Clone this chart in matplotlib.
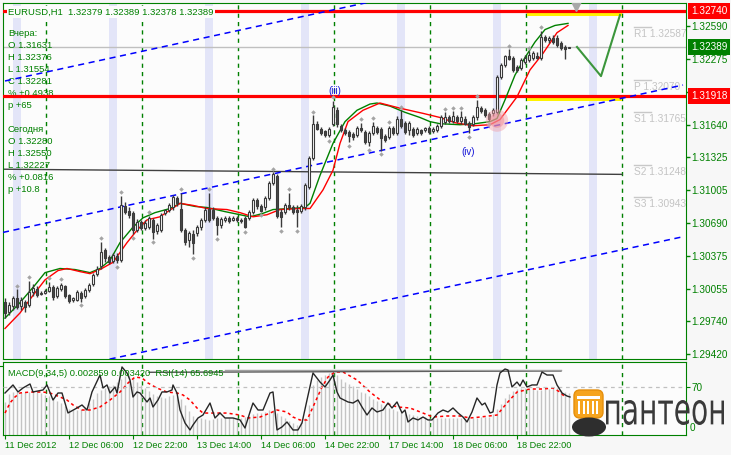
import numpy as np
import matplotlib
matplotlib.use('Agg')
import matplotlib.pyplot as plt
from matplotlib.patches import FancyBboxPatch, Ellipse, Rectangle, PathPatch
from matplotlib.textpath import TextPath
from matplotlib.font_manager import FontProperties
from matplotlib.transforms import Affine2D

plt.rcParams['font.family'] = ['Liberation Sans', 'DejaVu Sans']

# EURUSD H1 candles, bar 0 = 11 Dec 2012 14:00
opens = [1.2993, 1.2983, 1.2989, 1.2996, 1.2989, 1.2993, 1.2990, 1.3002, 1.3005, 1.3000,
         1.3001, 1.3003, 1.3007, 1.2998, 1.3005, 1.3008, 1.2999, 1.2995, 1.2995, 1.3001,
         1.2998, 1.3004, 1.3010, 1.3020, 1.3027, 1.3043, 1.3036, 1.3032, 1.3037, 1.3033,
         1.3085, 1.3081, 1.3079, 1.3062, 1.3070, 1.3064, 1.3065, 1.3072, 1.3061, 1.3062,
         1.3079, 1.3082, 1.3084, 1.3093, 1.3083, 1.3062, 1.3053, 1.3058, 1.3059, 1.3065,
         1.3072, 1.3083, 1.3082, 1.3074, 1.3067, 1.3072, 1.3074, 1.3072, 1.3074, 1.3072,
         1.3074, 1.3074, 1.3080, 1.3091, 1.3085, 1.3084, 1.3093, 1.3108, 1.3114, 1.3080,
         1.3080, 1.3086, 1.3084, 1.3082, 1.3081, 1.3084, 1.3104, 1.3132, 1.3165, 1.3160,
         1.3158, 1.3154, 1.3165, 1.3178, 1.3163, 1.3159, 1.3157, 1.3155, 1.3154, 1.3161,
         1.3157, 1.3147, 1.3156, 1.3161, 1.3160, 1.3153, 1.3152, 1.3161, 1.3156, 1.3170,
         1.3166, 1.3159, 1.3160, 1.3156, 1.3159, 1.3159, 1.3161, 1.3158, 1.3159, 1.3163,
         1.3167, 1.3171, 1.3168, 1.3171, 1.3168, 1.3170, 1.3166, 1.3165, 1.3171, 1.3180,
         1.3178, 1.3174, 1.3175, 1.3176, 1.3210, 1.3222, 1.3230, 1.3229, 1.3220, 1.3219,
         1.3225, 1.3227, 1.3229, 1.3230, 1.3229, 1.3249, 1.3246, 1.3248, 1.3248, 1.3243,
         1.3239, 1.32379]
closes = [1.2982, 1.2990, 1.2996, 1.2988, 1.2995, 1.2988, 1.3002, 1.3006, 1.2999, 1.3001,
          1.3003, 1.3007, 1.2997, 1.3006, 1.3009, 1.2998, 1.2994, 1.2996, 1.3002, 1.2996,
          1.3004, 1.3009, 1.3019, 1.3025, 1.3041, 1.3035, 1.3031, 1.3038, 1.3033, 1.3086,
          1.3080, 1.3077, 1.3062, 1.3070, 1.3064, 1.3069, 1.3074, 1.3060, 1.3067, 1.3077,
          1.3082, 1.3086, 1.3094, 1.3088, 1.3062, 1.3051, 1.3059, 1.3050, 1.3065, 1.3072,
          1.3082, 1.3072, 1.3074, 1.3067, 1.3073, 1.3074, 1.3071, 1.3074, 1.3072, 1.3071,
          1.3065, 1.3080, 1.3091, 1.3085, 1.3081, 1.3093, 1.3108, 1.3116, 1.3076, 1.3075,
          1.3086, 1.3084, 1.3080, 1.3080, 1.3085, 1.3106, 1.3132, 1.3165, 1.3160, 1.3156,
          1.3154, 1.3160, 1.3181, 1.3165, 1.3159, 1.3156, 1.3153, 1.3152, 1.3161, 1.3159,
          1.3147, 1.3156, 1.3163, 1.3157, 1.3151, 1.3149, 1.3161, 1.3156, 1.3170, 1.3163,
          1.3157, 1.3166, 1.3154, 1.3160, 1.3156, 1.3161, 1.3157, 1.3160, 1.3163, 1.3171,
          1.3171, 1.3168, 1.3172, 1.3168, 1.3171, 1.3165, 1.3162, 1.3171, 1.3181, 1.3177,
          1.3173, 1.3170, 1.3178, 1.3210, 1.3222, 1.3230, 1.3228, 1.3217, 1.3217, 1.3227,
          1.3229, 1.3231, 1.3233, 1.3229, 1.3249, 1.3246, 1.3248, 1.3244, 1.3241, 1.3238,
          1.3237, 1.32389]
highs = [1.2996, 1.2993, 1.2998, 1.3005, 1.2997, 1.2995, 1.3013, 1.3010, 1.3008, 1.3003,
         1.3005, 1.3012, 1.3009, 1.3008, 1.3011, 1.3009, 1.3000, 1.2997, 1.3004, 1.3003,
         1.3006, 1.3011, 1.3021, 1.3027, 1.3051, 1.3045, 1.3038, 1.3040, 1.3040, 1.3095,
         1.3089, 1.3084, 1.3081, 1.3073, 1.3072, 1.3072, 1.3076, 1.3074, 1.3069, 1.3079,
         1.3083, 1.3088, 1.3096, 1.3095, 1.3098, 1.3064, 1.3061, 1.3062, 1.3067, 1.3074,
         1.3084, 1.3098, 1.3084, 1.3076, 1.3075, 1.3076, 1.3076, 1.3076, 1.3076, 1.3074,
         1.3076, 1.3082, 1.3093, 1.3093, 1.3087, 1.3095, 1.3110, 1.3118, 1.3116, 1.3083,
         1.3088, 1.3098, 1.3086, 1.3086, 1.3087, 1.3108, 1.3134, 1.3173, 1.3168, 1.3162,
         1.3159, 1.3162, 1.3187, 1.3181, 1.3165, 1.3161, 1.3159, 1.3157, 1.3163, 1.3166,
         1.3159, 1.3158, 1.3167, 1.3163, 1.3162, 1.3155, 1.3163, 1.3163, 1.3172, 1.3178,
         1.3168, 1.3168, 1.3162, 1.3162, 1.3160, 1.3162, 1.3163, 1.3162, 1.3165, 1.3173,
         1.3176, 1.3173, 1.3177, 1.3173, 1.3177, 1.3172, 1.3168, 1.3173, 1.3188, 1.3182,
         1.3180, 1.3176, 1.3180, 1.3212, 1.3224, 1.3231, 1.3237, 1.3230, 1.3222, 1.3229,
         1.3231, 1.3235, 1.3235, 1.3234, 1.3255, 1.3251, 1.3250, 1.3251, 1.3251, 1.3245,
         1.3241, 1.32389]
lows = [1.2977, 1.2980, 1.2985, 1.2986, 1.2985, 1.2983, 1.2988, 1.2998, 1.2997, 1.2999,
        1.3000, 1.3002, 1.2995, 1.2996, 1.3003, 1.2996, 1.2992, 1.2993, 1.2994, 1.2993,
        1.2996, 1.3002, 1.3008, 1.3018, 1.3025, 1.3031, 1.3029, 1.3030, 1.3030, 1.3031,
        1.3078, 1.3074, 1.3058, 1.3060, 1.3062, 1.3062, 1.3063, 1.3054, 1.3058, 1.3060,
        1.3077, 1.3080, 1.3082, 1.3085, 1.3060, 1.3048, 1.3046, 1.3039, 1.3056, 1.3062,
        1.3070, 1.3070, 1.3072, 1.3057, 1.3064, 1.3070, 1.3069, 1.3071, 1.3070, 1.3069,
        1.3064, 1.3072, 1.3078, 1.3083, 1.3080, 1.3082, 1.3091, 1.3106, 1.3074, 1.3065,
        1.3078, 1.3082, 1.3078, 1.3065, 1.3079, 1.3082, 1.3102, 1.3130, 1.3159, 1.3154,
        1.3152, 1.3152, 1.3163, 1.3162, 1.3157, 1.3154, 1.3147, 1.3149, 1.3152, 1.3157,
        1.3145, 1.3143, 1.3154, 1.3155, 1.3139, 1.3147, 1.3150, 1.3154, 1.3154, 1.3161,
        1.3155, 1.3154, 1.3152, 1.3154, 1.3154, 1.3157, 1.3155, 1.3156, 1.3157, 1.3161,
        1.3165, 1.3166, 1.3166, 1.3166, 1.3165, 1.3164, 1.3156, 1.3163, 1.3169, 1.3175,
        1.3171, 1.3168, 1.3172, 1.3174, 1.3208, 1.3220, 1.3227, 1.3215, 1.3215, 1.3217,
        1.3223, 1.3225, 1.3227, 1.3228, 1.3227, 1.3244, 1.3243, 1.3242, 1.3239, 1.3236,
        1.3228, 1.32378]

up_fractals = [3, 6, 11, 14, 24, 29, 36, 44, 51, 67, 71, 77, 82, 89, 92, 96, 99,
               110, 112, 114, 118, 126, 131, 134]
down_fractals = [19, 28, 32, 37, 47, 53, 60, 64, 69, 73, 81, 86, 91, 94, 116, 121]

# moving averages
green_ma_bars = [0, 3.75, 7.5, 10, 13.75, 17.5, 21.25, 23.75, 26.25, 28.75, 32, 34.5, 37.5,
                 41.25, 43.75, 47.5, 50.5, 55, 58.75, 61.25, 64.25, 67, 71.25, 75, 76.25,
                 78.75, 82, 85, 88, 91.25, 93, 96.25, 100, 103.75, 106.25, 108.75, 113.75,
                 117.5, 121.25, 123, 125, 127.5, 130, 132.5, 135, 137.5, 140.75]
green_ma = [1.2977, 1.2992, 1.3009, 1.3021, 1.3025, 1.3024, 1.3021, 1.3025, 1.3033, 1.3050,
            1.3065, 1.3074, 1.3079, 1.3083, 1.3088, 1.3085, 1.3084, 1.3080, 1.3077, 1.3075,
            1.3078, 1.3082, 1.3083, 1.3084, 1.3088, 1.3115, 1.3146, 1.3167, 1.3178, 1.3184,
            1.3185, 1.3182, 1.3176, 1.3171, 1.3167, 1.3165, 1.3164, 1.3165, 1.3167, 1.3170,
            1.3188, 1.3212, 1.3229, 1.3244, 1.3256, 1.3260, 1.3262]
red_ma_bars = [0, 3.75, 7, 10, 13.25, 15.5, 18.75, 21.25, 23.75, 27, 30.5, 33, 35.5, 38.75,
               43.75, 47, 50.5, 55.5, 58.75, 62, 65.5, 68.75, 73.75, 76.25, 79.5, 82, 83.75,
               85.75, 89.5, 93.75, 98.75, 104.5, 108.75, 112.5, 117, 121.25, 123.75, 128,
               131.25, 134.5, 138, 140.75]
red_ma = [1.2967, 1.2982, 1.2999, 1.3014, 1.3023, 1.3025, 1.3022, 1.3020, 1.3024, 1.3031,
          1.3050, 1.3062, 1.3072, 1.3075, 1.3088, 1.3086, 1.3083, 1.3082, 1.3079, 1.3075,
          1.3077, 1.3082, 1.3083, 1.3083, 1.3101, 1.3120, 1.3146, 1.3167, 1.3178, 1.3185,
          1.3180, 1.3175, 1.3171, 1.3166, 1.3163, 1.3164, 1.3169, 1.3191, 1.3217, 1.3233,
          1.3253, 1.3260]

# chart objects
red_levels = [1.32740, 1.31918]
yellow_zone = [130.5, 154.25]
bid_price = 1.32389
channel_upper = ([0, 169.5], [1.32063, 1.33483])
channel_mid = ([-0.5, 169.5], [1.30599, 1.32024])
channel_low = ([0, 169.25], [1.29158, 1.30555])
flat_line = ([-0.5, 154.25], [1.3121, 1.3116])
forecast_bars = [143, 149, 153.75]
forecast_prices = [1.32392, 1.32110, 1.32701]
pivot_names = ['R1', 'P', 'S1', 'S2', 'S3']
pivot_values = [1.32587, 1.32070, 1.31765, 1.31248, 1.30943]
price_ticks = [1.32590, 1.32275, 1.31955, 1.31640, 1.31325, 1.31005, 1.30690,
               1.30375, 1.30055, 1.29740, 1.29420]
session_bars = [3, 27, 51, 75, 99, 123, 147]
day_start_bars = [10.2, 34.2, 58.2, 82.2, 106.2, 130.2, 154.2]
date_tick_bars = [0, 16, 32, 48, 64, 80, 96, 112, 128]
date_labels = ['11 Dec 2012', '12 Dec 06:00', '12 Dec 22:00', '13 Dec 14:00', '14 Dec 06:00',
               '14 Dec 22:00', '17 Dec 14:00', '18 Dec 06:00', '18 Dec 22:00']

header = 'EURUSD,H1  1.32379 1.32389 1.32378 1.32389'
info_lines = ['Вчера:', 'O 1.31631', 'H 1.32376', 'L 1.31554', 'C 1.32281', '% +0.4938', 'p +65',
              'Сегодня', 'O 1.32280', 'H 1.32550', 'L 1.32227', '% +0.0816', 'p +10.8']
info_y = [34, 46, 58, 70, 82, 94, 106, 130, 142, 154, 166, 178, 190]
indicator_title = 'MACD(9,34,5) 0.002859 0.003420  RSI(14) 65.6945'

# MACD histogram, signal and RSI
macd_hist = [.00281, .00349, .00366, .00366, .00358, .00366, .00366, .00366, .00366, .00358,
             .00341, .00332, .00315, .00290, .00273, .00247, .00222, .00213, .00213, .00222,
             .00239, .00273, .00307, .00358, .00383, .00400, .00417, .00426, .00452, .00477,
             .00503, .00511, .00486, .00452, .00426, .00400, .00375, .00349, .00332, .00324,
             .00315, .00332, .00341, .00332, .00307, .00256, .00204, .00162, .00145, .00145,
             .00136, .00128, .00136, .00145, .00145, .00145, .00145, .00145, .00145, .00145,
             .00153, .00162, .00179, .00187, .00187, .00196, .00213, .00213, .00187, .00162,
             .00145, .00119, .00102, .00085, .00111, .00145, .00256, .00426, .00469, .00494,
             .00511, .00528, .00537, .00511, .00477, .00452, .00435, .00417, .00392, .00366,
             .00358, .00332, .00307, .00290, .00264, .00239, .00230, .00222, .00204, .00196,
             .00187, .00179, .00170, .00162, .00153, .00153, .00145, .00145, .00145, .00145,
             .00145, .00145, .00145, .00145, .00145, .00145, .00145, .00145, .00145, .00153,
             .00153, .00153, .00179, .00222, .00264, .00315, .00349, .00375, .00392, .00400,
             .00400, .00392, .00392, .00383, .00383, .00392, .00392, .00400, .00400, .00383,
             .00366, .00358]
sig_bars = [0, 1.25, 2.5, 3.75, 6.25, 9.5, 11.25, 13.75, 15.5, 17, 19.25, 21.25, 23.75, 26.25,
            28.75, 30.75, 32.5, 34.25, 35.75, 38, 40.5, 43, 44.5, 46.25, 48, 49.5, 52, 55.5,
            58.75, 60.75, 63.75, 66.25, 68, 70.5, 72, 73.75, 75.5, 77, 79.25, 80.75, 82.5,
            84.5, 88, 91.25, 94.5, 98, 101.25, 104.5, 107, 110.5, 113.75, 116.25, 118.75,
            123, 125.5, 128, 131.25, 134.5, 137, 138.75, 140]
sig_vals = [.00187, .00273, .00324, .00358, .00366, .00366, .00358, .00324, .00298, .00256,
            .00213, .00213, .00239, .00298, .00366, .00443, .00494, .00486, .00443, .00400,
            .00366, .00358, .00341, .00298, .00230, .00187, .00187, .00187, .00170, .00145,
            .00153, .00187, .00213, .00196, .00153, .00128, .00128, .00239, .00409, .00494,
            .00537, .00537, .00469, .00366, .00281, .00239, .00230, .00187, .00153, .00162,
            .00162, .00145, .00153, .00170, .00273, .00366, .00392, .00392, .00400, .00366,
            .00324]
rsi_bars = [0, 2, 3.25, 4.5, 6.25, 7, 9.5, 10.5, 12, 13.25,
            14.25, 15.75, 18, 19.25, 20.5, 21.75, 23.75, 24.5, 25.5, 26.25,
            27.5, 28, 29.25, 30.5, 31.25, 32, 33, 33.75, 35.5, 36.25,
            37, 38.25, 39.25, 40.5, 41.75, 42, 43, 43.75, 45, 46.25,
            47, 48.25, 49.5, 51.25, 52.5, 53.75, 55, 57, 58.75, 60,
            61.25, 62, 63.25, 64.5, 66.25, 67, 68, 69.25, 70.5, 72,
            73.25, 74.25, 75.5, 77, 78.75, 80, 81.25, 82, 83, 83.75,
            85.75, 87, 88.25, 89.25, 90.5, 91.75, 93, 94.5, 95.75, 96.75,
            98, 99.25, 100, 100.75, 102, 103.25, 104.5, 105.75, 106.75, 108.25,
            109.5, 110.75, 112, 113.25, 114.5, 115.5, 116.75, 118, 119.25, 120,
            121.25, 122, 123, 123.75, 125, 125.75, 126.75, 128, 128.75, 129.5,
            130.5, 131.75, 133, 134.25, 135.5, 137, 138, 139.25, 140.5, 141.25]
rsi_vals = [61.4, 72.9, 62.9, 68.6, 74.3, 62.9, 65.7, 72.9, 51.4, 61.4,
            61.4, 32.9, 40.0, 44.3, 37.1, 62.9, 87.1, 68.6, 72.9, 61.4,
            70.0, 61.4, 98.6, 90.0, 80.0, 55.7, 62.9, 61.4, 48.6, 54.3,
            41.4, 51.4, 62.9, 62.9, 65.7, 72.9, 61.4, 37.1, 18.6, 8.6,
            15.7, 25.7, 30.0, 47.1, 25.7, 32.9, 25.7, 25.7, 22.9, 11.4,
            34.3, 47.1, 37.1, 37.1, 61.4, 62.9, 8.6, 12.9, 20.0, 8.6,
            8.6, 18.6, 51.4, 90.0, 77.1, 70.0, 80.0, 87.1, 62.9, 54.3,
            48.6, 47.1, 51.4, 41.4, 30.0, 40.0, 34.3, 37.1, 47.1, 40.0,
            48.6, 32.9, 37.1, 20.0, 25.7, 22.9, 27.1, 22.9, 22.9, 32.9,
            37.1, 34.3, 40.0, 32.9, 27.1, 20.0, 34.3, 54.3, 44.3, 47.1,
            32.9, 34.3, 72.9, 90.0, 95.7, 94.3, 70.0, 77.1, 71.4, 80.0,
            70.0, 72.9, 72.9, 91.4, 87.1, 87.1, 72.9, 61.4, 57.1, 55.7]
rsi_trend = ([36, 139], [91.0, 92.9])
rsi_trend2 = ([55, 139], [93.6, 93.6])

GREEN = '#008000'
BG = '#FCFCFC'
W, H = 731, 455


def frame(left, top, right, bottom):
    return [left / W, 1 - bottom / H, (right - left) / W, (bottom - top) / H]


fig = plt.figure(figsize=(W / 100, H / 100), dpi=100, facecolor='#F7F7F7')
ax = fig.add_axes(frame(3, 3, 686, 359), facecolor=BG)
axi = fig.add_axes(frame(3, 362, 686, 435), facecolor=BG)

# ---- main chart
ax.set_xlim(-0.5, 170.25)
ax.set_ylim(1.29375, 1.32817)
for b in session_bars:
    ax.axvspan(b - 1, b + 1, color='#E3E5F8', lw=0, zorder=0)
for b in day_start_bars:
    ax.axvline(b, color=GREEN, lw=1, ls=(0, (3, 3)), zorder=1)
    axi.axvline(b, color=GREEN, lw=1, ls=(0, (3, 3)), zorder=1)

for lv in red_levels:
    ax.fill_between(yellow_zone, lv - 0.00045, lv + 0.0001, color='#FFF200', lw=0, zorder=2)
    ax.axhline(lv, color='#FF0000', lw=2.3, zorder=3)
ax.axhline(bid_price, color='#C0C0C0', lw=1, zorder=2)
ax.plot(*flat_line, color='#404040', lw=1, zorder=2)
for xs, ys in (channel_upper, channel_mid, channel_low):
    ax.plot(xs, ys, color='#0000FF', lw=1.1, ls=(0, (4, 3)), zorder=3)
ax.plot(forecast_bars, forecast_prices, color='#3C963C', lw=1.5, zorder=3)

for name, val in zip(pivot_names, pivot_values):
    ax.plot([157.2, 161.6], [val, val], color='#C8C8C8', lw=1, zorder=2)
    ax.annotate(f'{name} {val:.5f}', xy=(157.2, val), xytext=(0, -2),
                textcoords='offset pixels', va='top', ha='left', fontsize=7.3,
                color='#C4C4C4', clip_on=True, zorder=2)

ax.plot(green_ma_bars, green_ma, color='#008000', lw=1, zorder=4)
ax.plot(red_ma_bars, red_ma, color='#FF0000', lw=1, zorder=4)

bars = np.arange(len(closes))
o = np.array(opens)
c = np.array(closes)
rising = c >= o
body_low = np.minimum(o, c)
body_h = np.maximum(np.abs(c - o), 0.00003)
ax.vlines(bars, lows, highs, color='#3A3A3A', lw=1, zorder=5)
ax.bar(bars[rising], body_h[rising], bottom=body_low[rising], width=0.7,
       facecolor='white', edgecolor='#3A3A3A', lw=0.8, zorder=6)
ax.bar(bars[~rising], body_h[~rising], bottom=body_low[~rising], width=0.7,
       facecolor='#484848', edgecolor='#3A3A3A', lw=0.8, zorder=6)

hi = np.array(highs)
lo = np.array(lows)
ax.plot(up_fractals, hi[up_fractals] + 0.00035, 'D', ms=2.3, mew=0, color='#A4A4A4', zorder=7)
ax.plot(down_fractals, lo[down_fractals] - 0.00035, 'D', ms=2.3, mew=0, color='#A4A4A4', zorder=7)

ax.scatter([123], [1.3168], s=260, color='#F4A0A8', alpha=0.45, edgecolors='none', zorder=8)
ax.scatter([123], [1.3168], s=110, color='#F08C96', alpha=0.5, edgecolors='none', zorder=8)
ax.plot([142.75], [1.3279], 'v', ms=7, color='#A8A8A8', zorder=8)
ax.text(82.5, 1.3197, '(iii)', color='#1414D8', fontsize=7, ha='center', va='center', zorder=8)
ax.text(115.75, 1.3138, '(iv)', color='#1414D8', fontsize=7, ha='center', va='center', zorder=8)

ax.annotate(header, xy=(0, 1), xycoords='axes fraction', xytext=(5, -9),
            textcoords='offset pixels', va='center', ha='left', fontsize=6.8, color=GREEN,
            bbox=dict(boxstyle='square,pad=0.15', fc=BG, ec='none'), zorder=10)
for txt, yp in zip(info_lines, info_y):
    ax.annotate(txt, xy=(0, 1), xycoords='axes fraction', xytext=(5, -(yp - 3)),
                textcoords='offset pixels', va='center', ha='left', fontsize=6.8,
                color=GREEN, zorder=2)

ax.set_xticks([])
ax.yaxis.tick_right()
ax.set_yticks(price_ticks)
ax.set_yticklabels([f'{p:.5f}' for p in price_ticks])
ax.tick_params(axis='y', colors=GREEN, length=3, width=1, pad=1, labelsize=7.2)
for sp in ax.spines.values():
    sp.set_color(GREEN)

for val, col in ((red_levels[0], '#FF0000'), (bid_price, '#008000'), (red_levels[1], '#FF0000')):
    ax.annotate(f'{val:.5f}', xy=(1, val), xycoords=('axes fraction', 'data'), xytext=(5, 0),
                textcoords='offset pixels', va='center', ha='left', fontsize=7.2, color='white',
                bbox=dict(boxstyle='square,pad=0.28', fc=col, ec='none'),
                annotation_clip=False, zorder=20)

# ---- indicator window
axi.set_xlim(-0.5, 170.25)
axi.set_ylim(0, 0.00622)
axi.vlines(bars, 0, macd_hist, color='#C4C4C4', lw=1, zorder=2)
axi.plot(sig_bars, sig_vals, color='#FF0000', lw=1.1, ls=(0, (2, 2)), zorder=3)
axi.yaxis.tick_right()
axi.set_yticks([0.005876])
axi.set_yticklabels(['0.005876'])
axi.tick_params(axis='y', colors=GREEN, length=3, pad=1, labelsize=7.2)
axi.set_xticks(date_tick_bars)
axi.set_xticklabels(date_labels)
for lbl in axi.get_xticklabels():
    lbl.set_ha('left')
axi.tick_params(axis='x', colors=GREEN, length=3, pad=1.5, labelsize=6.6)
for sp in axi.spines.values():
    sp.set_color(GREEN)
axi.annotate('0', xy=(1, 0.096), xycoords='axes fraction', xytext=(4, 0),
             textcoords='offset pixels', va='center', ha='left', fontsize=7.2, color=GREEN)

rsi_ax = axi.twinx()
rsi_ax.set_ylim(1.4, 105.7)
rsi_ax.axhline(70, color='#C0C0C0', lw=0.9, ls=(0, (3, 3)), zorder=2)
rsi_ax.plot(*rsi_trend, color='#505050', lw=1, zorder=2)
rsi_ax.plot(*rsi_trend2, color='#A0A0A0', lw=1, zorder=2)
rsi_ax.plot(rsi_bars, rsi_vals, color='#262626', lw=1, zorder=3)
rsi_ax.set_yticks([70])
rsi_ax.set_yticklabels(['70'])
rsi_ax.tick_params(axis='y', colors=GREEN, length=3, pad=1, labelsize=7.2)
for sp in rsi_ax.spines.values():
    sp.set_visible(False)
rsi_ax.text(8 / W, 1 - 373 / H, indicator_title, transform=fig.transFigure,
            va='center', ha='left', fontsize=6.7, color=GREEN, zorder=5)

# ---- logo
lg = fig.add_axes(frame(566, 380, 730, 442), zorder=20)
lg.set_xlim(566, 730)
lg.set_ylim(442, 380)
lg.axis('off')
lg.patch.set_alpha(0)
lg.add_patch(FancyBboxPatch((574, 390), 29, 28, boxstyle='round,pad=0,rounding_size=6',
                            fc='#F6A41E', ec='#E58E0B', lw=1))
lg.add_patch(Rectangle((577, 396), 23, 3, fc='white', ec='none'))
for cx in [578, 582.5, 587, 591.5, 596]:
    lg.add_patch(Rectangle((cx, 400.5), 2.4, 13, fc='white', ec='none'))
lg.add_patch(Ellipse((589, 427), 34, 19, fc='#2E2E2E', ec='none'))
tp = TextPath((0, 0), 'пантеон', size=1, prop=FontProperties(family='DejaVu Sans'))
ext = tp.get_extents()
tr = Affine2D().translate(-ext.x0, -ext.y0).scale(118 / ext.width, -25 / ext.height).translate(606, 425)
lg.add_patch(PathPatch(tr.transform_path(tp), fc='#3A3A3A', ec='none'))

fig.savefig('out.png', dpi=100, facecolor=fig.get_facecolor())
